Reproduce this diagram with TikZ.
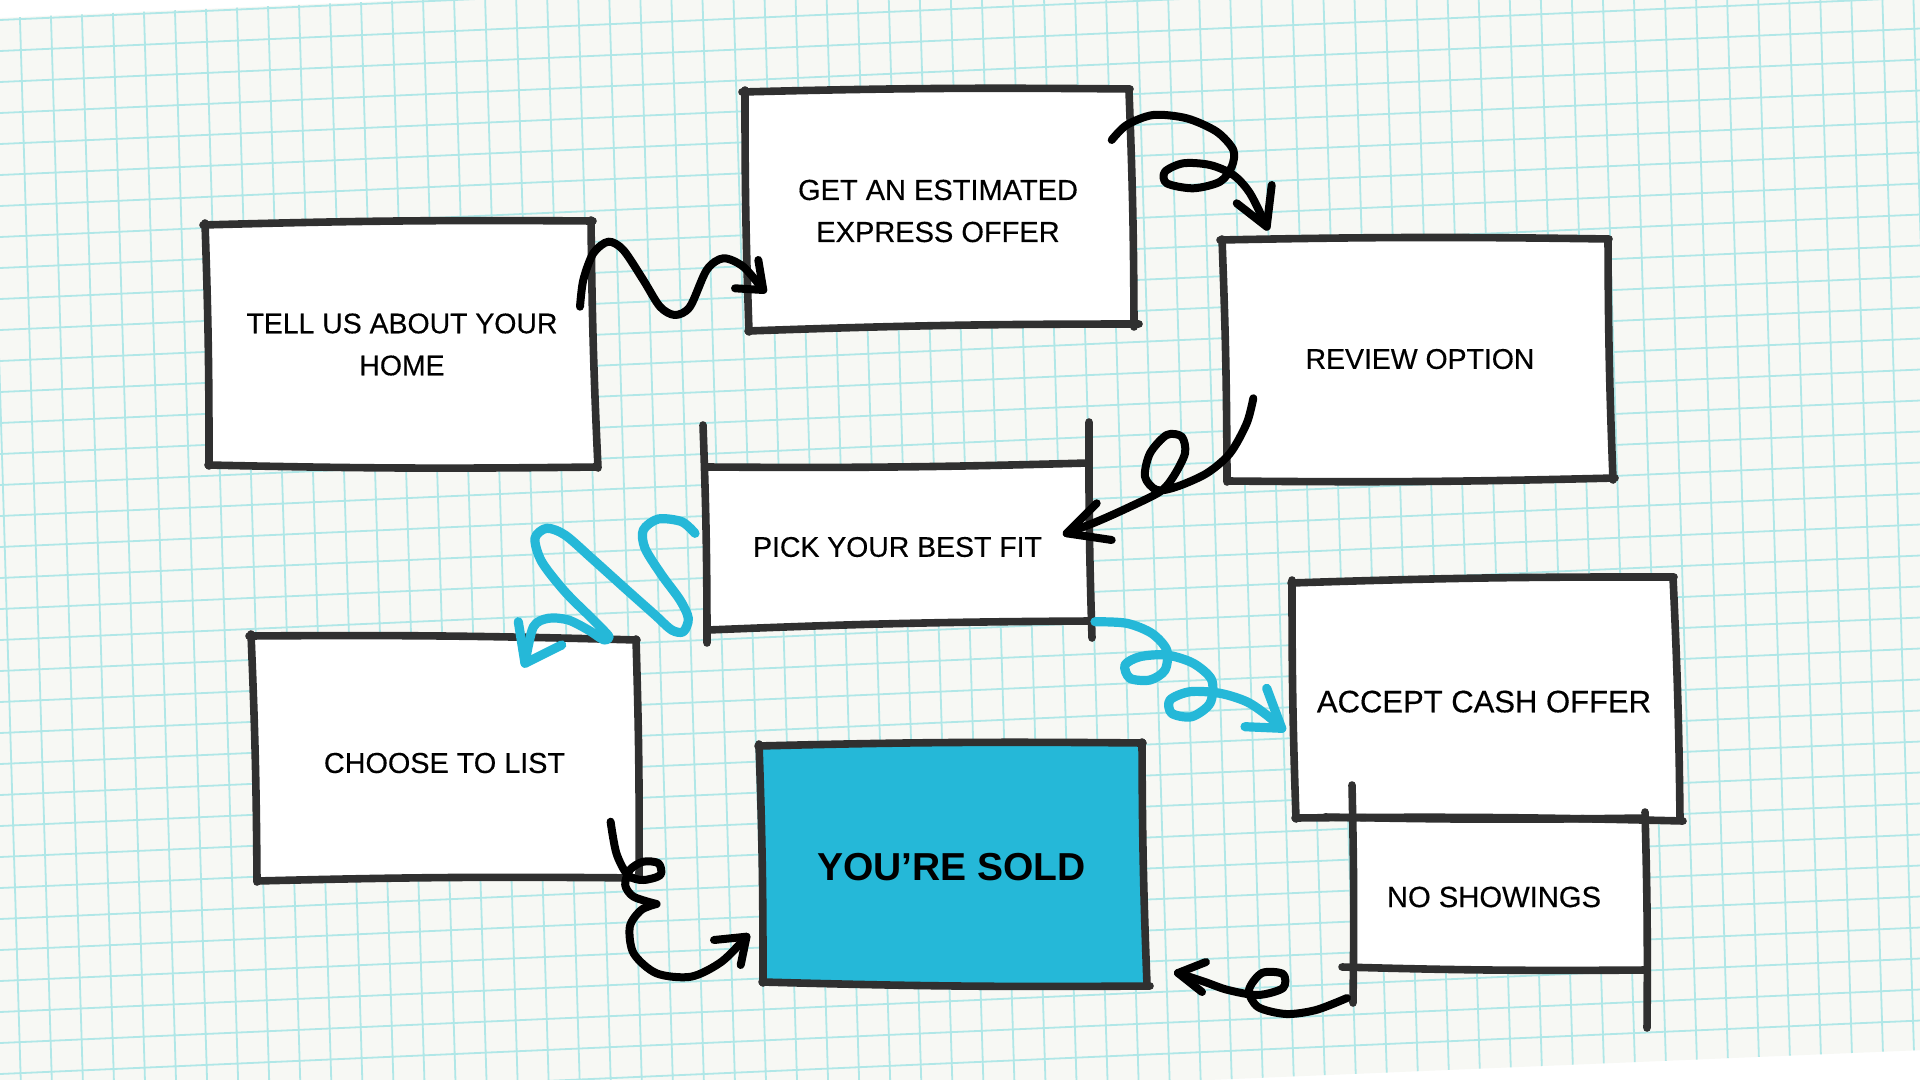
\documentclass[tikz,border=0pt]{standalone}
\usepackage{fontspec}
\setmainfont{Liberation Sans}
\newfontface\medfont{Liberation Sans}[FakeBold=0.4]
\usetikzlibrary{calc}
\definecolor{paper}{RGB}{247,248,244}
\definecolor{gridc}{RGB}{176,231,231}
\definecolor{ink}{RGB}{48,48,48}
\definecolor{sold}{RGB}{37,184,216}
\begin{document}
\begin{tikzpicture}[x=0.5pt,y=-0.5pt,
  gridline/.style={gridc, line width=0.9pt},
  boxline/.style={ink, line width=3.8pt, line cap=round, line join=round},
  blk/.style={black, line width=4pt, line cap=round, line join=round},
  bluarr/.style={sold, line width=4.6pt, line cap=round, line join=round},
  lbl/.style={font=\medfont\fontsize{14.2}{21}\selectfont, align=center, text=black, inner sep=0pt},
  boldlbl/.style={font=\bfseries\fontsize{19.5}{24}\selectfont, align=center, text=black, inner sep=0pt}]

\useasboundingbox (0,0) rectangle (1920,1080);
\fill[white] (0,0) rectangle (1920,1080);

% paper with grid
\begin{scope}
\clip (-10,18.4) -- (1930,-66.9) -- (1930,1049.7) -- (-10,1131.2) -- cycle;
\fill[paper] (-10,-100) rectangle (1930,1200);
\foreach \k in {0,...,37} \draw[gridline] (-10,{20.44+31*\k}) -- (1930,{20+31*\k-84.92});
\foreach \j in {-2,...,62} \draw[gridline] ({17+31.05*\j},-80) -- ({53.6+31.05*\j},1140);
\end{scope}

% box fills
\fill[white] (206,224) -- (590,222) -- (597,466) -- (209,464) -- cycle;
\fill[white] (745,91) -- (1129,89) -- (1134,325) -- (749,330) -- cycle;
\fill[white] (1222,240) -- (1608,240) -- (1613,479) -- (1228,481) -- cycle;
\fill[white] (705,466) -- (1089,463) -- (1091,622) -- (707,630) -- cycle;
\fill[white] (251,636) -- (637,640) -- (639,879) -- (257,881) -- cycle;
\fill[sold] (759,745) -- (1142,743) -- (1147,985) -- (763,982) -- cycle;
\fill[white] (1292,582) -- (1673,577) -- (1680,820) -- (1296,818) -- cycle;
\fill[white] (1352,818) -- (1645,818) -- (1646,969) -- (1353,967) -- cycle;

% labels
\node[lbl] (tell) at (402,344.5) {TELL US ABOUT YOUR\\HOME};
\node[lbl, font=\medfont\fontsize{14.5}{21}\selectfont] (est) at (938,211) {GET AN ESTIMATED\\EXPRESS OFFER};
\node[lbl] (review) at (1420,359) {REVIEW OPTION};
\node[lbl] (pick) at (897.5,547) {PICK YOUR BEST FIT};
\node[lbl, font=\medfont\fontsize{14.4}{21}\selectfont] (choose) at (444.5,763) {CHOOSE TO LIST};
\node[boldlbl] (sold) at (951.5,867.5) {YOU’RE SOLD};
\node[lbl, font=\medfont\fontsize{15.5}{21}\selectfont] (accept) at (1484,701.6) {ACCEPT CASH OFFER};
\node[lbl, font=\medfont\fontsize{14.6}{21}\selectfont] (noshow) at (1494,897) {NO SHOWINGS};

% box outlines
% A
\draw[boxline] (203,225) to[bend left=1] (593,221);
\draw[boxline] (591,220) to[bend right=1] (598,468);
\draw[boxline] (597,467) to[bend left=1] (208,465);
\draw[boxline] (209,466) to[bend right=1] (205,223);
% B
\draw[boxline] (742,92) to[bend left=1] (1130,89);
\draw[boxline] (1129,91) to[bend left=1] (1134,327);
\draw[boxline] (1139,324) to[bend right=1] (748,331);
\draw[boxline] (749,332) to[bend left=1] (745,90);
% C
\draw[boxline] (1220,240) to[bend left=1] (1609,239);
\draw[boxline] (1608,241) to[bend right=1] (1613,480);
\draw[boxline] (1615,478) to[bend left=1] (1228,481);
\draw[boxline] (1227,482) to[bend right=1] (1222,239);
% D
\draw[boxline] (703,425) to[bend left=1] (707,643);
\draw[boxline] (707,467) to[bend right=1] (1088,463);
\draw[boxline] (1089,422) to[bend right=1] (1092,638);
\draw[boxline] (708,630) to[bend left=1] (1091,621);
% E
\draw[boxline] (249,636) to[bend left=1] (637,640);
\draw[boxline] (636,639) to[bend left=1] (639,880);
\draw[boxline] (640,878) to[bend right=1] (257,881);
\draw[boxline] (257,882) to[bend right=1] (251,634);
% F
\draw[boxline] (758,746) to[bend left=1] (1143,743);
\draw[boxline] (1142,742) to[bend right=1] (1147,985);
\draw[boxline] (1150,986) to[bend left=1] (762,982);
\draw[boxline] (763,983) to[bend right=1] (759,744);
% G
\draw[boxline] (1291,583) to[bend left=1] (1674,577);
\draw[boxline] (1673,577) to[bend left=1] (1680,820);
\draw[boxline] (1683,821) to[bend right=1] (1295,818);
\draw[boxline] (1296,819) to[bend left=1] (1292,580);
% H
\draw[boxline] (1352,785) to[bend left=1] (1353,1003);
\draw[boxline] (1325,817) to[bend right=1] (1646,818);
\draw[boxline] (1645,812) to[bend left=1] (1647,1028);
\draw[boxline] (1342,967) to[bend right=1] (1647,970);

% connectors
% A -> B
\coordinate (ab1) at (580,306.7);
\coordinate (ab2) at (763.3,290);
\draw[blk] plot[smooth] coordinates {(ab1) (583.3,280) (593.3,253.3) (608.3,241.7) (623.3,250) (643.3,280) (660,306.7) (675,315) (690,306.7) (706.7,270) (723.3,258.3) (743.3,266.7) (ab2)};
\draw[blk] (758.3,260) -- (ab2) -- (735,288.3);

% B -> C
\coordinate (bc1) at (1111.7,140);
\coordinate (bc2) at (1266.7,226.7);
\draw[blk] plot[smooth] coordinates {(bc1) (1126.7,125) (1153.3,115) (1186.7,118.3) (1216.7,131.7) (1233.3,150) (1231.7,166.7) (1220,181.7) (1193.3,188.3) (1166.7,183.3) (1165,171.7) (1183.3,163.3) (1210,165) (1233.3,175) (1250,193.3) (bc2)};
\draw[blk] (1236.7,203.3) -- (bc2) -- (1271.7,185);

% C -> D
\coordinate (cd1) at (1253.3,398.3);
\coordinate (cd2) at (1066.7,533.3);
\draw[blk] plot[smooth] coordinates {(cd1) (1246.7,423.3) (1230,453.3) (1206.7,473.3) (1176.7,486.7) (1156.7,490) (1145,476.7) (1150,453.3) (1166.7,435) (1181.7,436.7) (1185,453.3) (1173.3,476.7) (1160,491.7) (1126.7,508.3) (1096.7,521.7) (cd2)};
\draw[blk] (1096.7,503.3) -- (cd2) -- (1111.7,540);

% D -> E (blue)
\coordinate (de1) at (695,533.3);
\coordinate (de2) at (525,663.3);
\draw[bluarr] plot[smooth] coordinates {(de1) (681.7,521.7) (658.3,519) (643.3,530) (645,548.3) (661.7,575) (680,600) (688.3,618.3) (683.3,631.7) (671.7,630) (655,615) (625,588.3) (591.7,558.3) (565,535) (546.7,528.3) (535,538.3) (541.7,561.7) (565,591.7) (591.7,618.3) (603.3,630) (609,637) (604,640) (588.3,630) (568.3,620) (548.3,618.3) (533.3,627) (de2)};
\draw[bluarr] (518.3,621.7) -- (de2) -- (561.7,645);

% D -> G (blue)
\coordinate (dg1) at (1095,621.7);
\coordinate (dg2) at (1281.7,728.3);
\draw[bluarr] plot[smooth] coordinates {(dg1) (1126.7,623.3) (1151.7,633.3) (1166.7,650) (1165,670) (1150,680) (1130,678.3) (1125,665) (1140,656.7) (1166.7,655) (1193.3,663.3) (1211.7,680) (1210,703.3) (1191.7,716.7) (1171.7,713.3) (1170,700) (1190,691.7) (1220,693.3) (1246.7,701.7) (1266.7,715) (dg2)};
\draw[bluarr] (1266.7,688.3) -- (dg2) -- (1245,726.7);

% E -> F
\coordinate (ef1) at (610.6,821.7);
\coordinate (ef2) at (746.5,936.7);
\draw[blk] plot[smooth] coordinates {(ef1) (616.4,853.3) (627.8,875) (643.1,880) (660.4,875) (658.5,863.3) (643.1,861.7) (629.8,870) (625.2,885) (633.6,896.7) (656.5,904)};
\draw[blk] plot[smooth] coordinates {(656.5,904) (641.2,910) (629.8,926.7) (633.6,953.3) (656.5,973.3) (691,976.7) (721.6,961.7) (ef2)};
\draw[blk] (714,940) -- (ef2) -- (740.7,965);

% H -> F
\coordinate (hf1) at (1347,998);
\coordinate (hf2) at (1178,973);
\draw[blk] plot[smooth] coordinates {(hf1) (1316,1010) (1286,1014) (1258,1007) (1249,990) (1262,973) (1283,974) (1283,988) (1258,995) (1228,990) (1205,982) (hf2)};
\draw[blk] (1206,962) -- (hf2) -- (1202,992);

\end{tikzpicture}
\end{document}
